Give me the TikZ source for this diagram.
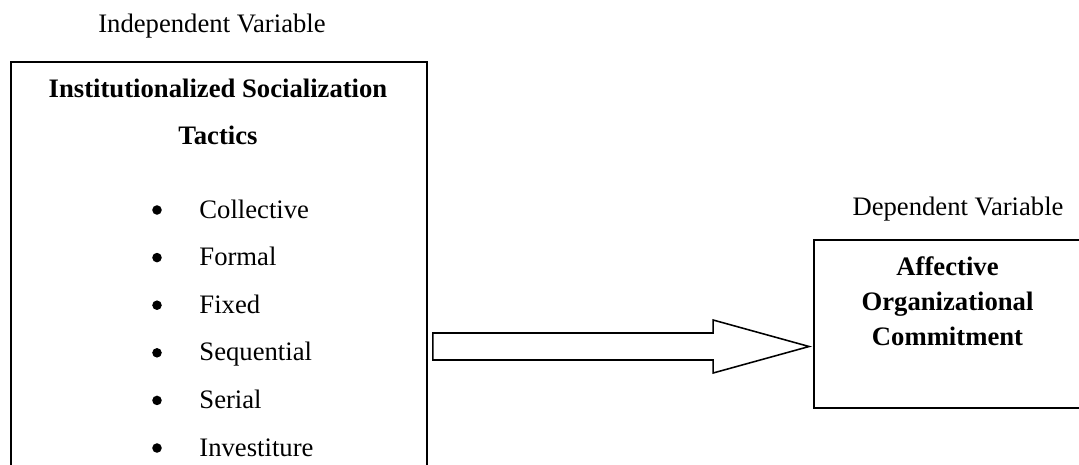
\documentclass[tikz,border=0pt]{standalone}
\usepackage{fontspec}
\setmainfont{Liberation Serif}
\usetikzlibrary{calc}

\begin{document}
\begin{tikzpicture}[x=0.45pt,y=-0.45pt,
  box/.style={draw,line width=0.8pt,inner sep=0pt},
  txt/.style={font=\fontsize{12}{14}\selectfont,inner sep=0pt},
  dot/.style={circle,fill,inner sep=0pt,minimum size=4.3pt},
  head/.style={font=\bfseries\fontsize{12}{15.75}\selectfont,align=center,inner sep=0pt},
  blockarrow/.style={draw,line width=0.7pt,line join=miter}]
\useasboundingbox (0,0) rectangle (1079,464);
\clip (0,0) rectangle (1079,464);
\node[box,minimum width=187.2pt,minimum height=197.1pt] (lbox) at (219,281) {};
\node[box,minimum width=128.7pt,minimum height=75.6pt] (rbox) at (957,324) {};
\node[txt,anchor=base] (indep) at (212,32) {Independent Variable};
\node[txt,anchor=base] (dep) at (958,215) {Dependent Variable};
\node[head,font=\bfseries\fontsize{12}{21.15}\selectfont] (title) at (218,111.5)
  {Institutionalized Socialization\\Tactics};
\node[head] (outcome) at (947.5,301) {Affective\\Organizational\\Commitment};
\foreach \tactic [count=\i from 0] in {Collective,Formal,Fixed,Sequential,Serial,Investiture}{
  \node[dot] (dot\i) at (157,210+47.6*\i) {};
  \node[txt,anchor=base west] (tac\i) at (199,218+47.6*\i) {\tactic};
}
\coordinate (tail) at ($(lbox.east|-0,346.5)+(5,0)$);
\coordinate (tip) at ($(rbox.west|-tail)+(-4,0)$);
\draw[blockarrow] ($(tail)+(0,-13.5)$) -- ($(tip)+(-96,-13.5)$) -- ($(tip)+(-96,-26.5)$)
  -- (tip) -- ($(tip)+(-96,26.5)$) -- ($(tip)+(-96,13.5)$) -- ($(tail)+(0,13.5)$) -- cycle;
\end{tikzpicture}
\end{document}
